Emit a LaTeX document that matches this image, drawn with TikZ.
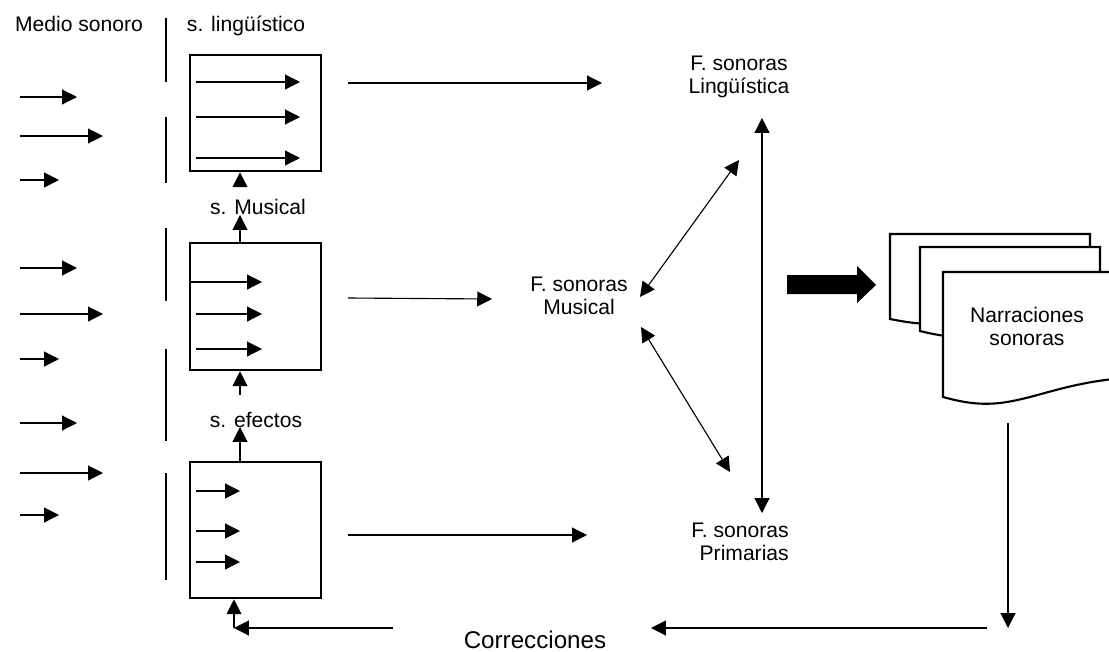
\documentclass[tikz,border=0pt]{standalone}
\usepackage{fontspec}
\setmainfont{Liberation Sans}
\usetikzlibrary{arrows.meta}

\begin{document}
\begin{tikzpicture}[x=0.025cm,y=-0.025cm,
        arr/.style={line width=0.8pt,-{Triangle[length=10.5pt,width=10.5pt]}},
        darr/.style={line width=0.8pt,{Triangle[length=10.5pt,width=10.5pt]}-{Triangle[length=10.5pt,width=10.5pt]}},
        sep/.style={line width=0.8pt},
        filtro/.style={draw,line width=1.8pt,minimum width=3.275cm,inner sep=0pt},
        hoja/.style={draw,fill=white,line width=1.5pt,line join=miter},
        lbl/.style={font=\fontsize{15}{16.4}\selectfont,inner sep=0pt,align=center}]
        \useasboundingbox (0,0) rectangle (1109,651);
        \clip (0,0) rectangle (1109,651);
        % textos
        \node[lbl,anchor=base] (medio) at (79,31) {Medio sonoro};
        \node[lbl,anchor=base] (sling) at (246,31) {s. lingüístico};
        \node[lbl,anchor=base] (smus) at (258,214) {s. Musical};
        \node[lbl,anchor=base] (sefe) at (256,427) {s. efectos};
        \node[lbl] (fling) at (739,77) {F. sonoras\\Lingüística};
        \node[lbl] (fmus) at (579,296) {F. sonoras\\Musical};
        \node[lbl,align=right,anchor=east] (fprim) at (789,542) {F. sonoras\\Primarias};
        \node[lbl,font=\fontsize{17.2}{19}\selectfont,anchor=base] (corr) at (535,648) {Correcciones};
        % cajas
        \node[filtro,minimum height=2.9cm] (bling) at (255.5,113) {};
        \node[filtro,minimum height=3.175cm] (bmus) at (255.5,306.5) {};
        \node[filtro,minimum height=3.4cm] (bef) at (255.5,530) {};
        % separadores
        \foreach \a/\b [count=\i] in {18/82,117/183,228/301,349/441,473/580}{
            \coordinate (sep\i a) at (166,\a);
            \coordinate (sep\i b) at (166,\b);
            \draw[sep] (sep\i a) -- (sep\i b);
        }
        % flechas de entrada
        \foreach \y/\e [count=\i] in {97/77,136/103,180/59,268/77,314/103,359/59,423/77,473/103,515/59}{
            \coordinate (ent\i) at (20,\y);
            \coordinate (sal\i) at (\e,\y);
            \draw[arr] (ent\i) -- (sal\i);
        }
        % flechas dentro de las cajas
        \foreach \x/\y/\e [count=\i] in {196/82/300,196/117/300,196/158/300,190/282/262,196/314/262,196/349/262,196/491/240,196/531/240,196/562/240}{
            \coordinate (in\i a) at (\x,\y);
            \coordinate (in\i b) at (\e,\y);
            \draw[arr] (in\i a) -- (in\i b);
        }
        % cadena vertical
        \coordinate (c1) at (240,185);
        \coordinate (c2) at (240,215);
        \coordinate (c3) at (240,395);
        \coordinate (c4) at (240,427);
        \coordinate (c5) at (234,628);
        \coordinate (c6) at (393,628);
        \draw[arr] (c1) -- (c1 |- bling.south);
        \draw[arr] (c2 |- bmus.north) -- (c2);
        \draw[arr] (c3) -- (c3 |- bmus.south);
        \draw[arr] (c4 |- bef.north) -- (c4);
        \draw[arr] (c5) -- (c5 |- bef.south);
        \draw[arr] (c6) -- (c5);
        % hacia las F. sonoras
        \coordinate (m1a) at (348,83);
        \coordinate (m1b) at (602,83);
        \coordinate (m2a) at (348,298);
        \coordinate (m2b) at (492,299);
        \coordinate (m3a) at (348,535);
        \coordinate (m3b) at (587,535);
        \draw[arr] (m1a) -- (m1b);
        \draw[arr] (m2a) -- (m2b);
        \draw[arr] (m3a) -- (m3b);
        \coordinate (d1) at (640,297);
        \coordinate (d2) at (739,160);
        \coordinate (d3) at (641,327);
        \coordinate (d4) at (730,472);
        \coordinate (v1) at (762,118);
        \coordinate (v2) at (762,513);
        \draw[darr] (d1) -- (d2);
        \draw[darr] (d3) -- (d4);
        \draw[darr] (v1) -- (v2);
        % flecha gruesa
        \fill (787,275) -- (857,275) -- (857,266) -- (876,285) -- (857,303) -- (857,294) -- (787,294) -- cycle;
        % hojas
        \draw[hoja] (890,319) -- (890,234) -- (1090,234) -- (1090,304)
            .. controls (1010,306) and (980,319) .. (945,323)
            .. controls (925,325) and (910,323) .. cycle;
        \draw[hoja] (920,331) -- (920,247) -- (1100,247) -- (1100,316)
            .. controls (1040,318) and (1010,332) .. (975,336)
            .. controls (955,338) and (940,336) .. cycle;
        \draw[hoja] (943,397) -- (943,272) -- (1140,272) -- (1140,377)
            .. controls (1070,380) and (1040,398) .. (1000,403)
            .. controls (980,405) and (965,403) .. cycle;
        \node[lbl] (narr) at (1027,326) {Narraciones\\sonoras};
        % correcciones
        \coordinate (r1) at (1008,423);
        \coordinate (r2) at (1008,628);
        \coordinate (r3) at (987,628);
        \coordinate (r4) at (651,628);
        \draw[arr] (r1) -- (r2);
        \draw[arr] (r3) -- (r4);
\end{tikzpicture}
\end{document}
